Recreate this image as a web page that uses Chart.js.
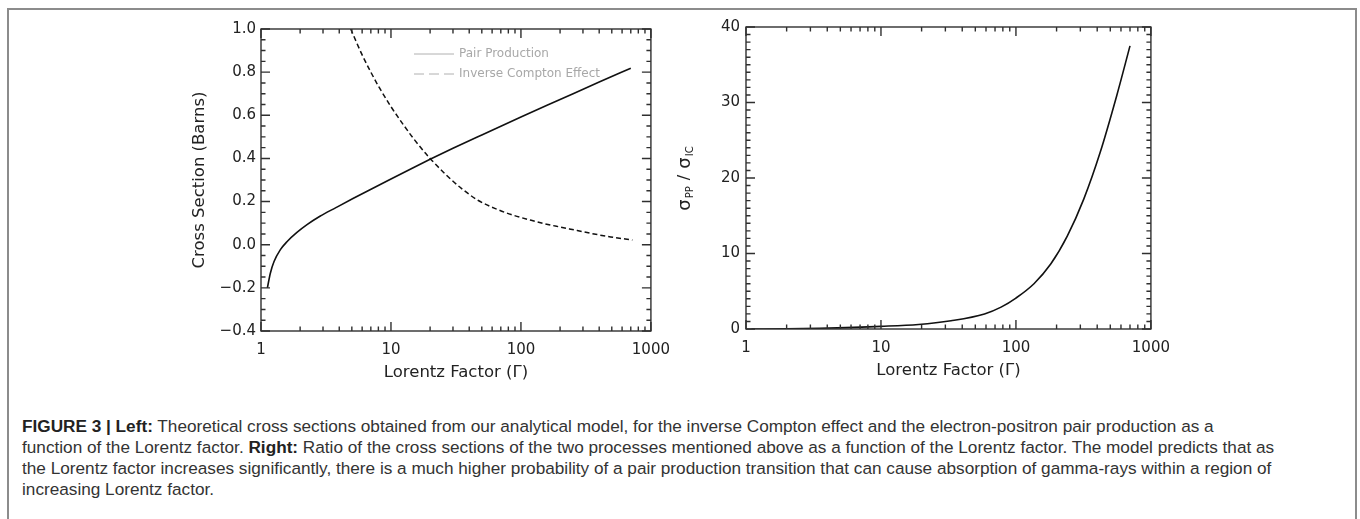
<!DOCTYPE html>
<html>
<head>
<meta charset="utf-8">
<script src="https://cdn.jsdelivr.net/npm/chart.js@4.4.1/dist/chart.umd.min.js"></script>
<style>
  body { margin: 0; background: #fff; width: 1360px; height: 519px; overflow: hidden; position: relative; }
  #frame { position: absolute; left: 7px; top: 8px; width: 1350px; height: 600px; border: 2px solid #8c8c8c; box-sizing: border-box; }
  #left { position: absolute; left: 180px; top: 0; width: 500px; height: 400px; }
  #right { position: absolute; left: 660px; top: 0; width: 520px; height: 400px; }
  #cap { position: absolute; left: 22px; top: 416px; white-space: nowrap; font-family: "Liberation Sans", Arial, sans-serif;
         font-size: 17.2px; line-height: 21px; color: #333; }
  #cap b { color: #222; }
</style>
</head>
<body>
<div id="frame"></div>
<div id="left"><canvas id="leftChart"></canvas></div>
<div id="right"><canvas id="rightChart"></canvas></div>
<div id="cap">
  <b>FIGURE 3 | Left:</b> Theoretical cross sections obtained from our analytical model, for the inverse Compton effect and the electron-positron pair production as a<br>
  function of the Lorentz factor. <b>Right:</b> Ratio of the cross sections of the two processes mentioned above as a function of the Lorentz factor. The model predicts that as<br>
  the Lorentz factor increases significantly, there is a much higher probability of a pair production transition that can cause absorption of gamma-rays within a region of<br>
  increasing Lorentz factor.
</div>
<script>
// values
const gammaPP = [1.12, 1.18, 1.26, 1.41, 1.59, 1.89, 2.26, 2.84, 3.8, 5.1, 6.84, 10, 14.7, 20, 30, 50, 100, 200, 400, 700];
const crossPP = [-0.20, -0.132, -0.078, -0.023, 0.015, 0.057, 0.093, 0.132, 0.173, 0.214, 0.254, 0.305, 0.356, 0.396, 0.447, 0.509, 0.592, 0.673, 0.754, 0.818];

const gammaIC = [4.9, 6, 7, 8.1, 10, 12.5, 15, 20, 27, 35, 47, 65, 84, 120, 150, 200, 271, 350, 490, 720];
const crossIC = [1.0, 0.88, 0.80, 0.73, 0.64, 0.555, 0.49, 0.40, 0.32, 0.26, 0.205, 0.165, 0.14, 0.113, 0.098, 0.082, 0.066, 0.052, 0.036, 0.022];

const gammaRatio = [1.1, 2, 3.5, 10, 19, 33, 58.5, 77.6, 100, 136, 181, 240, 318, 421, 558, 700];
const ratioValues = [0, 0.02, 0.1, 0.35, 0.6, 1.1, 2.0, 2.9, 4.1, 6.0, 8.6, 12.3, 17.2, 23.4, 30.9, 37.5];

const seriesLabels = ["Pair Production", "Inverse Compton Effect"];
const xTicks = [1, 10, 100, 1000];
const xTitle = "Lorentz Factor (\u0393)";
const leftYTitle = "Cross Section (Barns)";

Chart.defaults.font.family = "DejaVu Sans";
Chart.defaults.font.size = 15;
Chart.defaults.color = "#222";

const toPoints = (xs, ys) => xs.map((x, i) => ({ x: x, y: ys[i] }));

// minor tick positions for the log axis: 2..9 in every decade
const logMinor = [];
[1, 10, 100].forEach(d => { for (let m = 2; m <= 9; m++) logMinor.push(d * m); });

function range(a, b, step) {
  const out = [];
  for (let v = a; v <= b + 1e-9; v += step) out.push(Math.round(v * 1000) / 1000);
  return out;
}

// IDL-style frame with inward ticks on all four sides
const frameTicks = {
  id: "frameTicks",
  afterDatasetsDraw(chart, args, o) {
    const { ctx, chartArea: a } = chart;
    const x = chart.scales.x, y = chart.scales.y;
    ctx.save();
    ctx.strokeStyle = "#2f2f2f";
    ctx.lineWidth = 1.4;
    ctx.beginPath();
    const seg = (x1, y1, x2, y2) => { ctx.moveTo(x1, y1); ctx.lineTo(x2, y2); };
    o.xMajor.forEach(v => { const p = x.getPixelForValue(v); seg(p, a.bottom, p, a.bottom - 9); seg(p, a.top, p, a.top + 9); });
    o.xMinor.forEach(v => { const p = x.getPixelForValue(v); seg(p, a.bottom, p, a.bottom - 4.5); seg(p, a.top, p, a.top + 4.5); });
    o.yMajor.forEach(v => { const p = y.getPixelForValue(v); seg(a.left, p, a.left + 9, p); seg(a.right, p, a.right - 9, p); });
    o.yMinor.forEach(v => { const p = y.getPixelForValue(v); seg(a.left, p, a.left + 4.5, p); seg(a.right, p, a.right - 4.5, p); });
    ctx.stroke();
    ctx.strokeRect(a.left, a.top, a.right - a.left, a.bottom - a.top);
    ctx.restore();
  }
};

// small legend in the upper right of the left panel
const innerLegend = {
  id: "innerLegend",
  afterDraw(chart) {
    const { ctx, chartArea: a } = chart;
    ctx.save();
    ctx.font = "12px 'DejaVu Sans'";
    ctx.fillStyle = "#a8a8a8";
    ctx.strokeStyle = "#b0b0b0";
    ctx.lineWidth = 1;
    ctx.textBaseline = "middle";
    chart.data.datasets.forEach((ds, i) => {
      const yy = a.top + 25 + i * 20;
      ctx.setLineDash(i === 0 ? [] : [10, 5]);
      ctx.beginPath();
      ctx.moveTo(a.left + 153, yy);
      ctx.lineTo(a.left + 193, yy);
      ctx.stroke();
      ctx.fillText(ds.label, a.left + 198, yy);
    });
    ctx.restore();
  }
};

// sigma_pp / sigma_IC title with subscripts
const ratioTitle = {
  id: "ratioTitle",
  afterDraw(chart) {
    const { ctx, chartArea: a } = chart;
    const parts = [["\u03c3", 18, 0], ["PP", 10, 5], [" / ", 16, 0], ["\u03c3", 18, 0], ["IC", 10, 5]];
    ctx.save();
    ctx.translate(a.left - 61, (a.top + a.bottom) / 2);
    ctx.rotate(-Math.PI / 2);
    ctx.fillStyle = "#222";
    ctx.textBaseline = "middle";
    let total = 0;
    parts.forEach(p => { ctx.font = p[1] + "px 'DejaVu Sans'"; total += ctx.measureText(p[0]).width + 1; });
    let cx = -total / 2;
    parts.forEach(p => {
      ctx.font = p[1] + "px 'DejaVu Sans'";
      ctx.fillText(p[0], cx, p[2]);
      cx += ctx.measureText(p[0]).width + 1;
    });
    ctx.restore();
  }
};

function xScale(labelPad, titleBottom, height) {
  return {
    type: "logarithmic", min: 1, max: 1000,
    grid: { display: false, drawTicks: false }, border: { display: false },
    afterBuildTicks: s => { s.ticks = xTicks.map(v => ({ value: v })); },
    afterFit: s => { s.height = height; },
    ticks: { padding: labelPad, maxRotation: 0, autoSkip: false, callback: v => String(v) },
    title: { display: true, text: xTitle, font: { size: 16.5 }, padding: { top: 0, bottom: titleBottom } }
  };
}

const fmt = v => {
  const r = Math.round(v * 10) / 10;
  const s = Math.abs(r) < 1e-9 ? "0.0" : r.toFixed(1);
  return s.replace("-", "\u2212");
};

new Chart(document.getElementById("leftChart"), {
  type: "scatter",
  data: {
    datasets: [
      { label: seriesLabels[0], data: toPoints(gammaPP, crossPP), showLine: true, pointRadius: 0,
        borderColor: "#111", borderWidth: 1.6, cubicInterpolationMode: "monotone" },
      { label: seriesLabels[1], data: toPoints(gammaIC, crossIC), showLine: true, pointRadius: 0,
        borderColor: "#111", borderWidth: 1.5, borderDash: [5, 3], cubicInterpolationMode: "monotone" }
    ]
  },
  options: {
    responsive: true, maintainAspectRatio: false, animation: false,
    layout: { padding: { top: 29, right: 26, left: 0, bottom: 0 } },
    plugins: {
      legend: { display: false }, tooltip: { enabled: false },
      frameTicks: { xMajor: xTicks, xMinor: logMinor, yMajor: range(-0.4, 1.0, 0.2), yMinor: range(-0.4, 1.0, 0.05) }
    },
    scales: {
      x: xScale(10, 17, 69),
      y: {
        min: -0.4, max: 1.0,
        grid: { display: false, drawTicks: false }, border: { display: false },
        afterFit: s => { s.width = 81; },
        ticks: { stepSize: 0.2, padding: 5, callback: fmt },
        title: { display: true, text: leftYTitle, font: { size: 16.5 }, padding: { top: 10, bottom: 0 } }
      }
    }
  },
  plugins: [frameTicks, innerLegend]
});

new Chart(document.getElementById("rightChart"), {
  type: "scatter",
  data: {
    datasets: [
      { label: "ratio", data: toPoints(gammaRatio, ratioValues), showLine: true, pointRadius: 0,
        borderColor: "#111", borderWidth: 1.6, cubicInterpolationMode: "monotone" }
    ]
  },
  options: {
    responsive: true, maintainAspectRatio: false, animation: false,
    layout: { padding: { top: 27, right: 26, left: 0, bottom: 0 } },
    plugins: {
      legend: { display: false }, tooltip: { enabled: false },
      frameTicks: { xMajor: xTicks, xMinor: logMinor, yMajor: range(0, 40, 10), yMinor: range(0, 40, 1) }
    },
    scales: {
      x: xScale(10, 19, 71),
      y: {
        min: 0, max: 40,
        grid: { display: false, drawTicks: false }, border: { display: false },
        afterFit: s => { s.width = 86; },
        ticks: { stepSize: 10, padding: 6, callback: v => String(v) }
      }
    }
  },
  plugins: [frameTicks, ratioTitle]
});
</script>
</body>
</html>
